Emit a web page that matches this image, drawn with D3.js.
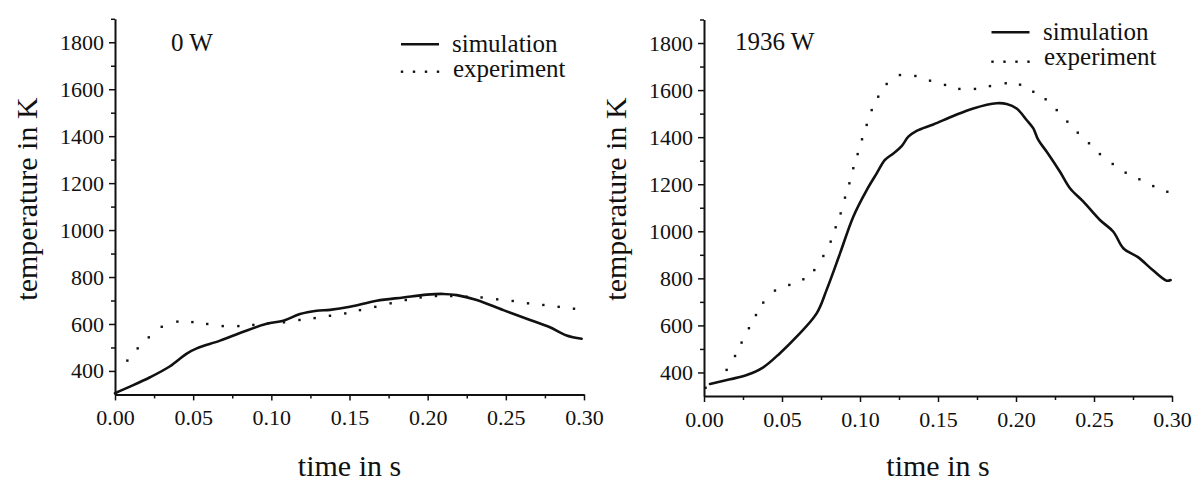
<!DOCTYPE html>
<html><head><meta charset="utf-8">
<script src="https://cdn.jsdelivr.net/npm/d3@7"></script>
<style>
body{margin:0;background:#fff}
svg text{font-family:"Liberation Serif","Times New Roman",serif !important;fill:#111}
</style>
</head><body>
<svg id="c" width="1195" height="482"></svg>
<script>
// ---------- data ----------
const xTicks = [0, 0.05, 0.10, 0.15, 0.20, 0.25, 0.30];
const xTickLabels = ["0.00", "0.05", "0.10", "0.15", "0.20", "0.25", "0.30"];
const xMinorTicks = [0.025, 0.075, 0.125, 0.175, 0.225, 0.275];
const yTicks = [400, 600, 800, 1000, 1200, 1400, 1600, 1800];
const yTickLabels = ["400", "600", "800", "1000", "1200", "1400", "1600", "1800"];
const yMinorTicks = [500, 700, 900, 1100, 1300, 1500, 1700, 1900];
const seriesNames = ["simulation", "experiment"];
const panelTitles = ["0 W", "1936 W"];

// 0 W panel
const sim0Time = [0, 0.0096, 0.0224, 0.0352, 0.0459, 0.0523, 0.0672, 0.0821, 0.097, 0.1077, 0.1183, 0.129, 0.1375, 0.1503, 0.1674, 0.1844, 0.1994, 0.21, 0.2186, 0.2314, 0.2484, 0.2655, 0.2782, 0.2889, 0.2985];
const sim0Temp = [305, 333, 373, 420, 474, 496, 529, 567, 601, 614, 642, 656, 660, 673, 699, 713, 725, 728, 723, 702, 659, 617, 586, 551, 537];
const exp0Time = [0.0079, 0.0145, 0.0216, 0.0299, 0.0399, 0.0495, 0.059, 0.0689, 0.0789, 0.0885, 0.098, 0.1081, 0.118, 0.1277, 0.1375, 0.1473, 0.1567, 0.1665, 0.1763, 0.186, 0.1955, 0.2053, 0.2151, 0.2249, 0.2345, 0.2445, 0.2544, 0.2642, 0.274, 0.2838, 0.2936];
const exp0Temp = [444, 496, 543, 588, 610, 608, 600, 591, 591, 596, 603, 607, 617, 625, 635, 645, 659, 673, 688, 702, 713, 719, 719, 716, 713, 705, 698, 688, 681, 673, 665];

// 1936 W panel
const sim1Time = [0.00385, 0.0167, 0.0274, 0.038, 0.0487, 0.0594, 0.0722, 0.0786, 0.0872, 0.0957, 0.1043, 0.1107, 0.116, 0.1214, 0.1267, 0.131, 0.1363, 0.147, 0.1598, 0.1726, 0.1876, 0.194, 0.2004, 0.2068, 0.2111, 0.2143, 0.2197, 0.2282, 0.2346, 0.2432, 0.2538, 0.2624, 0.2688, 0.2784, 0.288, 0.2966, 0.2991];
const sim1Temp = [351, 371, 389, 422, 482, 552, 651, 751, 906, 1062, 1175, 1246, 1303, 1331, 1362, 1402, 1427, 1454, 1490, 1522, 1544, 1541, 1522, 1473, 1437, 1388, 1338, 1253, 1183, 1126, 1048, 998, 928, 889, 833, 790, 793];
const exp1Time = [0.001, 0.0145, 0.0199, 0.0241, 0.0288, 0.0333, 0.038, 0.0455, 0.0547, 0.0637, 0.0707, 0.0765, 0.0812, 0.0844, 0.0876, 0.0904, 0.0932, 0.0957, 0.0985, 0.1013, 0.1043, 0.1075, 0.1117, 0.1171, 0.1256, 0.1355, 0.1449, 0.1545, 0.1637, 0.1737, 0.1833, 0.1934, 0.2026, 0.2111, 0.219, 0.2261, 0.2329, 0.2396, 0.2468, 0.2538, 0.262, 0.2703, 0.2791, 0.288, 0.297];
const exp1Temp = [335, 411, 470, 527, 588, 644, 697, 748, 772, 796, 835, 895, 956, 1017, 1076, 1143, 1204, 1268, 1328, 1391, 1452, 1515, 1572, 1626, 1664, 1660, 1640, 1622, 1605, 1605, 1617, 1629, 1623, 1593, 1561, 1515, 1466, 1419, 1374, 1328, 1286, 1249, 1221, 1192, 1168];

// ---------- layout ----------
const INK = "#111";
const FONT = '"Liberation Serif","Times New Roman",serif';
const panels = [
  {x0:115, x1:584, yT:18.8, yB:394.4, sT:sim0Time, sV:sim0Temp, eT:exp0Time, eV:exp0Temp, title:panelTitles[0], tx:171, ty:51,
   leg:{lx0:401, lx1:439, ly:44.3, tx:452, t1:52, dy:71.7, t2:77}, ytx:37},
  {x0:704, x1:1172, yT:19.5, yB:396, sT:sim1Time, sV:sim1Temp, eT:exp1Time, eV:exp1Temp, title:panelTitles[1], tx:735, ty:50,
   leg:{lx0:991.5, lx1:1029.5, ly:32.3, tx:1043, t1:39.5, dy:61.7, t2:65}, ytx:626}
];

const svg = d3.select("#c");

function styleAxis(a) {
  a.attr("font-family", FONT).attr("font-size", 22);
  a.selectAll("text").attr("font-family", FONT).attr("font-size", 22).attr("fill", INK);
  a.select(".domain").attr("stroke", INK).attr("stroke-width", 2);
  a.selectAll(".tick line").attr("stroke", INK).attr("stroke-width", 1.5);
}

panels.forEach(p => {
  const x = d3.scaleLinear().domain([0, 0.3]).range([p.x0, p.x1]);
  const y = d3.scaleLinear().domain([300, 1900]).range([p.yB, p.yT]);
  const g = svg.append("g");

  // minor ticks
  g.append("g").attr("transform", `translate(0,${p.yB})`)
    .call(d3.axisBottom(x).tickValues(xMinorTicks).tickSize(4).tickSizeOuter(0).tickFormat(""))
    .call(a => { a.select(".domain").remove(); styleAxis(a); });
  g.append("g").attr("transform", `translate(${p.x0},0)`)
    .call(d3.axisLeft(y).tickValues(yMinorTicks).tickSize(4).tickSizeOuter(0).tickFormat(""))
    .call(a => { a.select(".domain").remove(); styleAxis(a); });

  // major axes
  g.append("g").attr("transform", `translate(0,${p.yB})`)
    .call(d3.axisBottom(x).tickValues(xTicks).tickSize(6).tickPadding(9).tickSizeOuter(0)
      .tickFormat((d, i) => xTickLabels[i]))
    .call(styleAxis);
  g.append("g").attr("transform", `translate(${p.x0},0)`)
    .call(d3.axisLeft(y).tickValues(yTicks).tickSize(6).tickPadding(5).tickSizeOuter(0)
      .tickFormat((d, i) => yTickLabels[i]))
    .call(styleAxis);

  // simulation line
  const simData = p.sT.map((t, i) => [t, p.sV[i]]);
  g.append("path").datum(simData)
    .attr("fill", "none").attr("stroke", INK).attr("stroke-width", 2.6)
    .attr("stroke-linejoin", "round").attr("stroke-linecap", "round")
    .attr("d", d3.line().x(d => x(d[0])).y(d => y(d[1])).curve(d3.curveCatmullRom.alpha(0.5)));

  // experiment dots
  const expData = p.eT.map((t, i) => [t, p.eV[i]]);
  g.selectAll("rect.exp").data(expData).join("rect").attr("class", "exp")
    .attr("x", d => x(d[0]) - 1.2).attr("y", d => y(d[1]) - 1.2)
    .attr("width", 2.4).attr("height", 2.4).attr("fill", INK);

  // axis titles
  g.append("text").attr("x", (p.x0 + p.x1) / 2).attr("y", 476)
    .attr("text-anchor", "middle").attr("font-family", FONT).attr("font-size", 30).text("time in s");
  g.append("text").attr("transform", `translate(${p.ytx},199) rotate(-90)`)
    .attr("text-anchor", "middle").attr("font-family", FONT).attr("font-size", 30).text("temperature in K");

  // panel title
  g.append("text").attr("x", p.tx).attr("y", p.ty).attr("font-family", FONT).attr("font-size", 25).text(p.title);

  // legend
  const L = p.leg;
  g.append("line").attr("x1", L.lx0).attr("x2", L.lx1).attr("y1", L.ly).attr("y2", L.ly)
    .attr("stroke", INK).attr("stroke-width", 2.6);
  g.append("text").attr("x", L.tx).attr("y", L.t1).attr("font-family", FONT).attr("font-size", 25).text(seriesNames[0]);
  const legDots = d3.range(4).map(i => L.lx0 + 1 + i * (L.lx1 - L.lx0 - 2) / 3);
  g.selectAll("rect.leg").data(legDots).join("rect").attr("class", "leg")
    .attr("x", d => d - 1.2).attr("y", L.dy - 1.2).attr("width", 2.4).attr("height", 2.4).attr("fill", INK);
  g.append("text").attr("x", L.tx + 1).attr("y", L.t2).attr("font-family", FONT).attr("font-size", 25).text(seriesNames[1]);
});
</script>
</body></html>
